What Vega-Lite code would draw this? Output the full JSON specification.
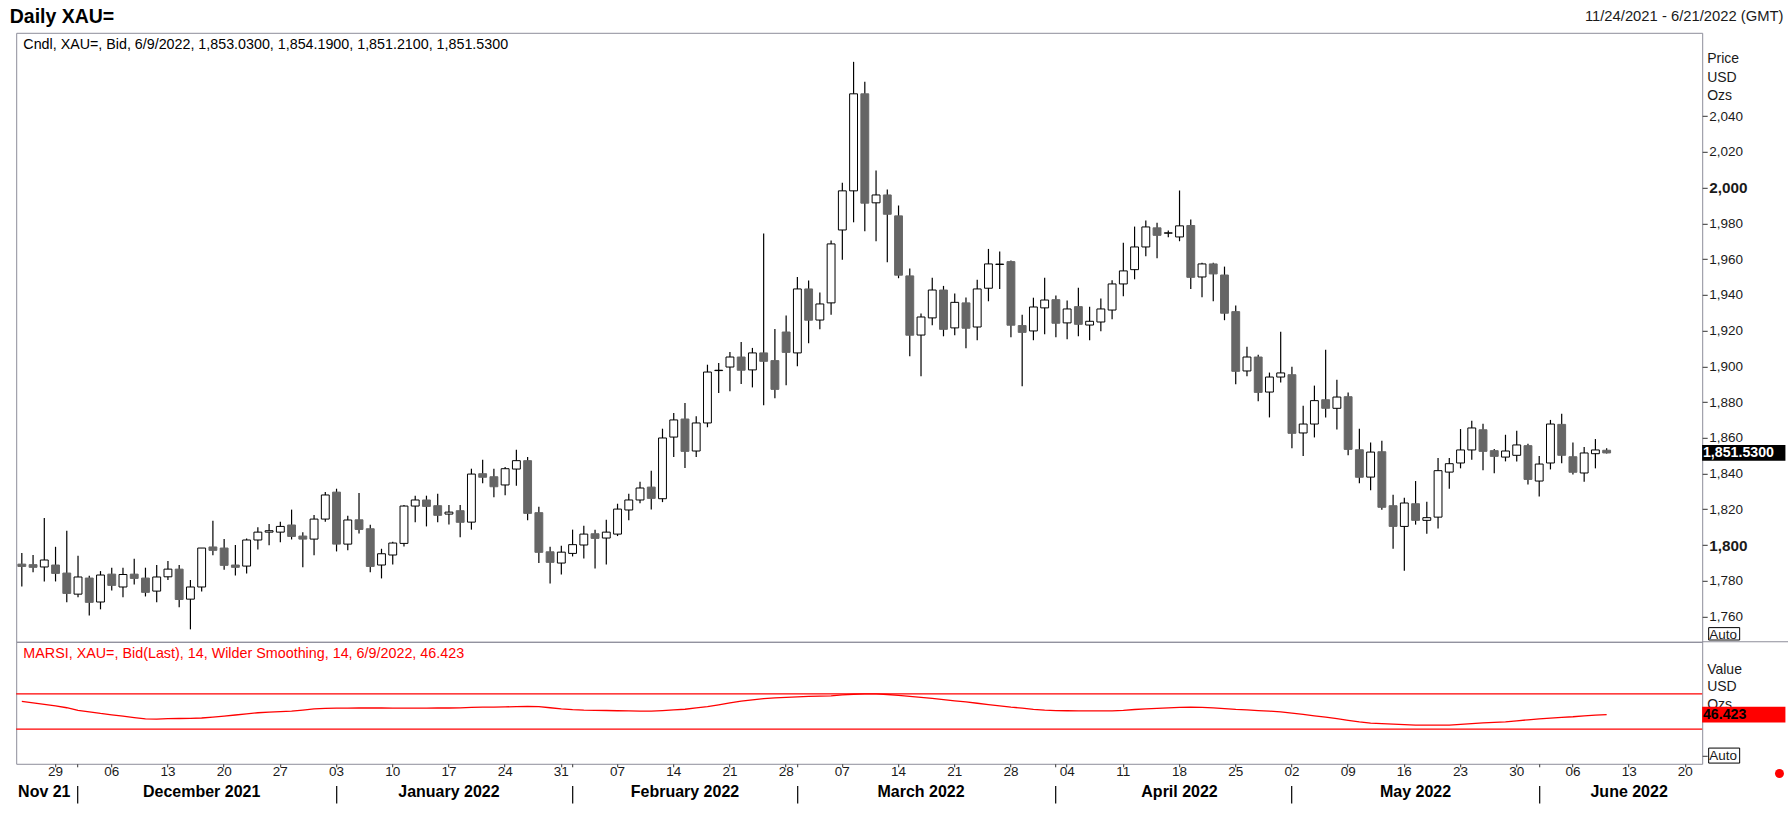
{
  "$schema": "https://vega.github.io/schema/vega-lite/v6.json",
  "background": "white",
  "padding": {"left": 9.2, "top": 5.8, "right": 0, "bottom": 0},
  "spacing": 0,
  "bounds": "flush",
  "config": {
    "font": "Liberation Sans",
    "view": {"stroke": "#8e8e9a", "strokeWidth": 1},
    "axis": {"labelFont": "Liberation Sans", "titleFont": "Liberation Sans", "grid": false}
  },
  "resolve": {"scale": {"y": "independent", "x": "shared"}},
  "data": {
    "values": [
      {"date": "2021-11-24", "open": 1789.3, "high": 1795.5, "low": 1776.8, "close": 1788.0, "rsi": 61.3},
      {"date": "2021-11-25", "open": 1789.0, "high": 1794.4, "low": 1784.7, "close": 1787.5, "rsi": 59.7},
      {"date": "2021-11-26", "open": 1787.7, "high": 1815.1, "low": 1779.6, "close": 1791.6, "rsi": 58.0},
      {"date": "2021-11-29", "open": 1788.8, "high": 1799.0, "low": 1779.6, "close": 1784.1, "rsi": 56.2},
      {"date": "2021-11-30", "open": 1784.3, "high": 1808.0, "low": 1767.9, "close": 1772.9, "rsi": 54.2},
      {"date": "2021-12-01", "open": 1772.5, "high": 1794.0, "low": 1770.7, "close": 1782.1, "rsi": 51.3},
      {"date": "2021-12-02", "open": 1781.5, "high": 1782.8, "low": 1760.6, "close": 1767.9, "rsi": 49.5},
      {"date": "2021-12-03", "open": 1768.1, "high": 1785.4, "low": 1764.0, "close": 1783.2, "rsi": 47.7},
      {"date": "2021-12-06", "open": 1783.7, "high": 1787.3, "low": 1774.6, "close": 1777.4, "rsi": 46.2},
      {"date": "2021-12-07", "open": 1776.5, "high": 1787.3, "low": 1770.7, "close": 1783.5, "rsi": 44.6},
      {"date": "2021-12-08", "open": 1783.7, "high": 1792.3, "low": 1777.9, "close": 1781.3, "rsi": 43.0},
      {"date": "2021-12-09", "open": 1781.5, "high": 1787.3, "low": 1771.2, "close": 1773.5, "rsi": 41.6},
      {"date": "2021-12-10", "open": 1774.2, "high": 1788.8, "low": 1767.9, "close": 1782.1, "rsi": 41.4},
      {"date": "2021-12-13", "open": 1782.2, "high": 1791.0, "low": 1780.4, "close": 1786.5, "rsi": 41.8},
      {"date": "2021-12-14", "open": 1786.5, "high": 1788.8, "low": 1765.1, "close": 1769.5, "rsi": 42.0},
      {"date": "2021-12-15", "open": 1769.7, "high": 1780.4, "low": 1752.8, "close": 1776.5, "rsi": 42.2},
      {"date": "2021-12-16", "open": 1776.5, "high": 1798.3, "low": 1774.0, "close": 1798.3, "rsi": 42.6},
      {"date": "2021-12-17", "open": 1798.9, "high": 1813.6, "low": 1794.2, "close": 1797.0, "rsi": 43.6},
      {"date": "2021-12-20", "open": 1798.3, "high": 1803.3, "low": 1786.2, "close": 1788.6, "rsi": 44.8},
      {"date": "2021-12-21", "open": 1788.8, "high": 1800.0, "low": 1783.0, "close": 1787.5, "rsi": 46.0},
      {"date": "2021-12-22", "open": 1788.2, "high": 1803.7, "low": 1784.1, "close": 1802.8, "rsi": 47.3},
      {"date": "2021-12-23", "open": 1802.8, "high": 1810.0, "low": 1797.5, "close": 1807.2, "rsi": 48.5},
      {"date": "2021-12-24", "open": 1807.2, "high": 1811.7, "low": 1799.8, "close": 1808.0, "rsi": 49.3},
      {"date": "2021-12-27", "open": 1807.2, "high": 1813.0, "low": 1801.5, "close": 1810.4, "rsi": 49.9},
      {"date": "2021-12-28", "open": 1811.2, "high": 1819.8, "low": 1803.1, "close": 1804.8, "rsi": 50.4},
      {"date": "2021-12-29", "open": 1805.0, "high": 1807.2, "low": 1787.5, "close": 1803.3, "rsi": 51.5},
      {"date": "2021-12-30", "open": 1803.3, "high": 1816.8, "low": 1794.2, "close": 1814.5, "rsi": 52.8},
      {"date": "2021-12-31", "open": 1814.5, "high": 1829.6, "low": 1813.0, "close": 1828.0, "rsi": 53.5},
      {"date": "2022-01-03", "open": 1829.6, "high": 1831.5, "low": 1796.4, "close": 1800.5, "rsi": 53.8},
      {"date": "2022-01-04", "open": 1800.5, "high": 1816.4, "low": 1797.0, "close": 1814.0, "rsi": 53.8},
      {"date": "2022-01-05", "open": 1814.1, "high": 1829.1, "low": 1806.5, "close": 1808.7, "rsi": 53.9},
      {"date": "2022-01-06", "open": 1809.1, "high": 1811.4, "low": 1784.7, "close": 1788.0, "rsi": 53.9},
      {"date": "2022-01-07", "open": 1788.8, "high": 1797.9, "low": 1781.3, "close": 1795.1, "rsi": 53.9},
      {"date": "2022-01-10", "open": 1794.4, "high": 1801.8, "low": 1789.1, "close": 1801.1, "rsi": 53.8},
      {"date": "2022-01-11", "open": 1800.9, "high": 1822.4, "low": 1799.2, "close": 1821.8, "rsi": 53.8},
      {"date": "2022-01-12", "open": 1821.8, "high": 1827.6, "low": 1812.7, "close": 1825.2, "rsi": 53.8},
      {"date": "2022-01-13", "open": 1825.2, "high": 1827.6, "low": 1810.4, "close": 1821.6, "rsi": 53.8},
      {"date": "2022-01-14", "open": 1822.0, "high": 1828.7, "low": 1812.7, "close": 1816.6, "rsi": 53.9},
      {"date": "2022-01-17", "open": 1817.3, "high": 1822.4, "low": 1811.5, "close": 1818.4, "rsi": 53.9},
      {"date": "2022-01-18", "open": 1819.2, "high": 1822.4, "low": 1804.3, "close": 1812.7, "rsi": 54.0},
      {"date": "2022-01-19", "open": 1812.8, "high": 1842.7, "low": 1808.6, "close": 1839.7, "rsi": 54.6},
      {"date": "2022-01-20", "open": 1839.9, "high": 1847.7, "low": 1834.5, "close": 1837.9, "rsi": 55.0},
      {"date": "2022-01-21", "open": 1838.2, "high": 1842.7, "low": 1826.7, "close": 1832.6, "rsi": 55.0},
      {"date": "2022-01-24", "open": 1833.6, "high": 1843.6, "low": 1827.8, "close": 1842.7, "rsi": 55.2},
      {"date": "2022-01-25", "open": 1842.5, "high": 1853.3, "low": 1833.2, "close": 1847.2, "rsi": 55.5},
      {"date": "2022-01-26", "open": 1847.2, "high": 1849.2, "low": 1813.8, "close": 1817.7, "rsi": 55.6},
      {"date": "2022-01-27", "open": 1818.1, "high": 1821.4, "low": 1789.9, "close": 1795.9, "rsi": 55.4},
      {"date": "2022-01-28", "open": 1796.2, "high": 1799.0, "low": 1778.5, "close": 1790.3, "rsi": 54.2},
      {"date": "2022-01-31", "open": 1789.9, "high": 1799.6, "low": 1783.5, "close": 1796.0, "rsi": 52.8},
      {"date": "2022-02-01", "open": 1795.3, "high": 1808.6, "low": 1793.6, "close": 1800.2, "rsi": 52.0},
      {"date": "2022-02-02", "open": 1800.0, "high": 1810.8, "low": 1792.5, "close": 1806.1, "rsi": 51.5},
      {"date": "2022-02-03", "open": 1806.3, "high": 1808.6, "low": 1786.9, "close": 1803.7, "rsi": 51.3},
      {"date": "2022-02-04", "open": 1803.9, "high": 1814.1, "low": 1789.1, "close": 1807.2, "rsi": 51.1},
      {"date": "2022-02-07", "open": 1806.1, "high": 1823.1, "low": 1805.0, "close": 1820.1, "rsi": 50.8},
      {"date": "2022-02-08", "open": 1819.6, "high": 1828.7, "low": 1813.8, "close": 1825.2, "rsi": 50.6},
      {"date": "2022-02-09", "open": 1825.2, "high": 1835.4, "low": 1823.3, "close": 1831.9, "rsi": 50.4},
      {"date": "2022-02-10", "open": 1832.4, "high": 1841.6, "low": 1819.9, "close": 1826.1, "rsi": 50.4},
      {"date": "2022-02-11", "open": 1825.9, "high": 1865.1, "low": 1824.0, "close": 1859.9, "rsi": 51.0},
      {"date": "2022-02-14", "open": 1860.4, "high": 1873.9, "low": 1849.2, "close": 1870.0, "rsi": 51.7},
      {"date": "2022-02-15", "open": 1870.5, "high": 1879.5, "low": 1843.1, "close": 1852.4, "rsi": 52.5},
      {"date": "2022-02-16", "open": 1852.6, "high": 1872.0, "low": 1849.2, "close": 1868.3, "rsi": 54.0},
      {"date": "2022-02-17", "open": 1868.3, "high": 1900.9, "low": 1865.9, "close": 1896.8, "rsi": 55.5},
      {"date": "2022-02-18", "open": 1897.6, "high": 1901.9, "low": 1885.1, "close": 1897.8, "rsi": 57.5},
      {"date": "2022-02-21", "open": 1899.6, "high": 1908.0, "low": 1886.0, "close": 1905.2, "rsi": 59.6},
      {"date": "2022-02-22", "open": 1905.2, "high": 1913.6, "low": 1890.1, "close": 1897.8, "rsi": 61.6},
      {"date": "2022-02-23", "open": 1898.0, "high": 1910.3, "low": 1888.2, "close": 1907.5, "rsi": 63.2},
      {"date": "2022-02-24", "open": 1907.5, "high": 1974.3, "low": 1878.2, "close": 1902.8, "rsi": 64.5},
      {"date": "2022-02-25", "open": 1903.2, "high": 1920.9, "low": 1882.1, "close": 1887.1, "rsi": 65.4},
      {"date": "2022-02-28", "open": 1919.2, "high": 1928.4, "low": 1889.4, "close": 1907.8, "rsi": 66.0},
      {"date": "2022-03-01", "open": 1907.5, "high": 1950.0, "low": 1900.0, "close": 1943.3, "rsi": 66.5},
      {"date": "2022-03-02", "open": 1943.3, "high": 1948.0, "low": 1912.9, "close": 1925.8, "rsi": 67.0},
      {"date": "2022-03-03", "open": 1925.9, "high": 1941.3, "low": 1920.7, "close": 1934.9, "rsi": 67.3},
      {"date": "2022-03-04", "open": 1935.5, "high": 1970.4, "low": 1928.9, "close": 1968.5, "rsi": 67.6},
      {"date": "2022-03-07", "open": 1976.3, "high": 2002.7, "low": 1959.7, "close": 1998.2, "rsi": 68.8},
      {"date": "2022-03-08", "open": 1998.2, "high": 2070.4, "low": 1980.6, "close": 2052.5, "rsi": 69.5},
      {"date": "2022-03-09", "open": 2052.5, "high": 2059.2, "low": 1975.6, "close": 1991.3, "rsi": 70.0},
      {"date": "2022-03-10", "open": 1991.5, "high": 2009.6, "low": 1970.0, "close": 1995.9, "rsi": 70.0},
      {"date": "2022-03-11", "open": 1995.9, "high": 1998.9, "low": 1958.2, "close": 1985.1, "rsi": 69.2},
      {"date": "2022-03-14", "open": 1984.2, "high": 1990.0, "low": 1949.3, "close": 1951.0, "rsi": 68.2},
      {"date": "2022-03-15", "open": 1950.6, "high": 1954.7, "low": 1905.6, "close": 1917.4, "rsi": 67.0},
      {"date": "2022-03-16", "open": 1917.5, "high": 1929.5, "low": 1894.4, "close": 1927.6, "rsi": 66.0},
      {"date": "2022-03-17", "open": 1927.1, "high": 1949.5, "low": 1923.0, "close": 1942.7, "rsi": 64.8},
      {"date": "2022-03-18", "open": 1942.7, "high": 1945.0, "low": 1916.8, "close": 1920.7, "rsi": 63.3},
      {"date": "2022-03-21", "open": 1921.5, "high": 1940.7, "low": 1917.4, "close": 1935.8, "rsi": 62.0},
      {"date": "2022-03-22", "open": 1935.5, "high": 1938.5, "low": 1910.1, "close": 1921.3, "rsi": 60.8},
      {"date": "2022-03-23", "open": 1922.0, "high": 1948.5, "low": 1914.6, "close": 1943.3, "rsi": 59.3},
      {"date": "2022-03-24", "open": 1943.7, "high": 1965.7, "low": 1936.4, "close": 1957.3, "rsi": 57.8},
      {"date": "2022-03-25", "open": 1957.0, "high": 1964.2, "low": 1943.3, "close": 1957.2, "rsi": 56.3},
      {"date": "2022-03-28", "open": 1958.6, "high": 1959.2, "low": 1916.2, "close": 1923.0, "rsi": 54.8},
      {"date": "2022-03-29", "open": 1922.8, "high": 1928.9, "low": 1888.8, "close": 1919.0, "rsi": 53.8},
      {"date": "2022-03-30", "open": 1919.8, "high": 1938.4, "low": 1914.6, "close": 1933.2, "rsi": 52.4},
      {"date": "2022-03-31", "open": 1932.7, "high": 1949.6, "low": 1917.9, "close": 1937.1, "rsi": 51.5},
      {"date": "2022-04-01", "open": 1937.3, "high": 1939.6, "low": 1916.2, "close": 1924.1, "rsi": 51.0},
      {"date": "2022-04-04", "open": 1924.3, "high": 1936.8, "low": 1915.1, "close": 1932.1, "rsi": 50.8},
      {"date": "2022-04-05", "open": 1933.4, "high": 1944.0, "low": 1916.8, "close": 1923.5, "rsi": 50.7},
      {"date": "2022-04-06", "open": 1923.1, "high": 1933.4, "low": 1914.6, "close": 1925.2, "rsi": 50.7},
      {"date": "2022-04-07", "open": 1924.8, "high": 1937.9, "low": 1919.6, "close": 1932.1, "rsi": 50.7},
      {"date": "2022-04-08", "open": 1931.5, "high": 1948.2, "low": 1926.3, "close": 1946.1, "rsi": 50.7},
      {"date": "2022-04-11", "open": 1946.1, "high": 1969.2, "low": 1939.2, "close": 1953.4, "rsi": 51.3},
      {"date": "2022-04-12", "open": 1954.1, "high": 1978.2, "low": 1948.7, "close": 1966.8, "rsi": 52.2},
      {"date": "2022-04-13", "open": 1966.8, "high": 1981.6, "low": 1961.6, "close": 1978.0, "rsi": 52.9},
      {"date": "2022-04-14", "open": 1977.5, "high": 1980.4, "low": 1960.5, "close": 1973.3, "rsi": 53.5},
      {"date": "2022-04-15", "open": 1974.5, "high": 1976.0, "low": 1972.2, "close": 1974.7, "rsi": 54.0},
      {"date": "2022-04-18", "open": 1972.4, "high": 1998.4, "low": 1970.0, "close": 1978.6, "rsi": 54.5},
      {"date": "2022-04-19", "open": 1978.8, "high": 1982.1, "low": 1943.3, "close": 1949.8, "rsi": 54.9},
      {"date": "2022-04-20", "open": 1950.0, "high": 1957.9, "low": 1938.6, "close": 1957.3, "rsi": 54.7},
      {"date": "2022-04-21", "open": 1957.3, "high": 1957.9, "low": 1936.4, "close": 1951.7, "rsi": 54.1},
      {"date": "2022-04-22", "open": 1951.1, "high": 1955.8, "low": 1925.8, "close": 1929.7, "rsi": 53.3},
      {"date": "2022-04-25", "open": 1930.6, "high": 1934.0, "low": 1889.9, "close": 1897.2, "rsi": 52.3},
      {"date": "2022-04-26", "open": 1897.4, "high": 1911.0, "low": 1894.4, "close": 1905.2, "rsi": 51.7},
      {"date": "2022-04-27", "open": 1905.2, "high": 1906.5, "low": 1880.4, "close": 1885.4, "rsi": 51.0},
      {"date": "2022-04-28", "open": 1885.6, "high": 1896.5, "low": 1871.4, "close": 1894.0, "rsi": 50.3},
      {"date": "2022-04-29", "open": 1894.0, "high": 1919.4, "low": 1891.0, "close": 1896.3, "rsi": 49.6},
      {"date": "2022-05-02", "open": 1895.3, "high": 1899.8, "low": 1854.1, "close": 1862.5, "rsi": 48.2},
      {"date": "2022-05-03", "open": 1862.7, "high": 1878.0, "low": 1849.8, "close": 1867.7, "rsi": 46.6},
      {"date": "2022-05-04", "open": 1867.7, "high": 1889.2, "low": 1860.2, "close": 1880.8, "rsi": 45.1},
      {"date": "2022-05-05", "open": 1881.3, "high": 1909.3, "low": 1871.4, "close": 1876.5, "rsi": 43.6},
      {"date": "2022-05-06", "open": 1876.5, "high": 1892.5, "low": 1864.7, "close": 1882.8, "rsi": 41.8},
      {"date": "2022-05-09", "open": 1883.0, "high": 1885.3, "low": 1850.2, "close": 1853.5, "rsi": 40.0},
      {"date": "2022-05-10", "open": 1853.3, "high": 1865.1, "low": 1834.5, "close": 1837.9, "rsi": 38.2},
      {"date": "2022-05-11", "open": 1838.0, "high": 1857.3, "low": 1830.6, "close": 1852.0, "rsi": 36.8},
      {"date": "2022-05-12", "open": 1852.2, "high": 1858.4, "low": 1819.7, "close": 1821.1, "rsi": 36.2},
      {"date": "2022-05-13", "open": 1822.0, "high": 1828.1, "low": 1797.9, "close": 1810.4, "rsi": 35.6},
      {"date": "2022-05-16", "open": 1810.4, "high": 1826.5, "low": 1785.6, "close": 1823.5, "rsi": 35.0},
      {"date": "2022-05-17", "open": 1823.1, "high": 1835.8, "low": 1811.4, "close": 1813.8, "rsi": 34.5},
      {"date": "2022-05-18", "open": 1813.8, "high": 1824.2, "low": 1806.3, "close": 1815.3, "rsi": 34.5},
      {"date": "2022-05-19", "open": 1815.6, "high": 1848.7, "low": 1809.3, "close": 1841.6, "rsi": 34.5},
      {"date": "2022-05-20", "open": 1840.8, "high": 1848.7, "low": 1831.5, "close": 1845.5, "rsi": 34.6},
      {"date": "2022-05-23", "open": 1845.9, "high": 1864.9, "low": 1842.9, "close": 1853.2, "rsi": 35.4},
      {"date": "2022-05-24", "open": 1853.2, "high": 1869.6, "low": 1847.7, "close": 1865.5, "rsi": 36.3},
      {"date": "2022-05-25", "open": 1864.5, "high": 1867.9, "low": 1841.8, "close": 1852.4, "rsi": 37.0},
      {"date": "2022-05-26", "open": 1852.8, "high": 1853.7, "low": 1840.1, "close": 1849.6, "rsi": 37.6},
      {"date": "2022-05-27", "open": 1849.2, "high": 1861.7, "low": 1846.8, "close": 1852.6, "rsi": 38.2},
      {"date": "2022-05-30", "open": 1850.2, "high": 1864.0, "low": 1846.8, "close": 1856.0, "rsi": 39.3},
      {"date": "2022-05-31", "open": 1855.6, "high": 1856.7, "low": 1833.9, "close": 1836.7, "rsi": 40.5},
      {"date": "2022-06-01", "open": 1835.8, "high": 1849.8, "low": 1827.2, "close": 1845.3, "rsi": 41.5},
      {"date": "2022-06-02", "open": 1845.9, "high": 1870.0, "low": 1842.3, "close": 1867.7, "rsi": 42.4},
      {"date": "2022-06-03", "open": 1867.5, "high": 1873.5, "low": 1845.7, "close": 1850.2, "rsi": 43.2},
      {"date": "2022-06-06", "open": 1849.4, "high": 1857.3, "low": 1839.5, "close": 1840.7, "rsi": 44.0},
      {"date": "2022-06-07", "open": 1840.3, "high": 1854.8, "low": 1835.4, "close": 1851.5, "rsi": 45.1},
      {"date": "2022-06-08", "open": 1851.1, "high": 1859.3, "low": 1842.9, "close": 1853.2, "rsi": 45.9},
      {"date": "2022-06-09", "open": 1853.03, "high": 1854.19, "low": 1851.21, "close": 1851.53, "rsi": 46.423}
    ]
  },
  "vconcat": [
    {
      "width": 1686,
      "height": 609,
      "layer": [
        {
          "mark": {"type": "rule", "color": "black", "strokeWidth": 1.2},
          "encoding": {
            "x": {
              "field": "date", "type": "ordinal", "axis": null,
              "scale": {
                "paddingInner": 0.3, "paddingOuter": 0.15,
                "domain": ["2021-11-24","2021-11-25","2021-11-26","2021-11-29","2021-11-30",
                  "2021-12-01","2021-12-02","2021-12-03","2021-12-06","2021-12-07","2021-12-08","2021-12-09","2021-12-10","2021-12-13","2021-12-14","2021-12-15","2021-12-16","2021-12-17","2021-12-20","2021-12-21","2021-12-22","2021-12-23","2021-12-24","2021-12-27","2021-12-28","2021-12-29","2021-12-30","2021-12-31",
                  "2022-01-03","2022-01-04","2022-01-05","2022-01-06","2022-01-07","2022-01-10","2022-01-11","2022-01-12","2022-01-13","2022-01-14","2022-01-17","2022-01-18","2022-01-19","2022-01-20","2022-01-21","2022-01-24","2022-01-25","2022-01-26","2022-01-27","2022-01-28","2022-01-31",
                  "2022-02-01","2022-02-02","2022-02-03","2022-02-04","2022-02-07","2022-02-08","2022-02-09","2022-02-10","2022-02-11","2022-02-14","2022-02-15","2022-02-16","2022-02-17","2022-02-18","2022-02-21","2022-02-22","2022-02-23","2022-02-24","2022-02-25","2022-02-28",
                  "2022-03-01","2022-03-02","2022-03-03","2022-03-04","2022-03-07","2022-03-08","2022-03-09","2022-03-10","2022-03-11","2022-03-14","2022-03-15","2022-03-16","2022-03-17","2022-03-18","2022-03-21","2022-03-22","2022-03-23","2022-03-24","2022-03-25","2022-03-28","2022-03-29","2022-03-30","2022-03-31",
                  "2022-04-01","2022-04-04","2022-04-05","2022-04-06","2022-04-07","2022-04-08","2022-04-11","2022-04-12","2022-04-13","2022-04-14","2022-04-15","2022-04-18","2022-04-19","2022-04-20","2022-04-21","2022-04-22","2022-04-25","2022-04-26","2022-04-27","2022-04-28","2022-04-29",
                  "2022-05-02","2022-05-03","2022-05-04","2022-05-05","2022-05-06","2022-05-09","2022-05-10","2022-05-11","2022-05-12","2022-05-13","2022-05-16","2022-05-17","2022-05-18","2022-05-19","2022-05-20","2022-05-23","2022-05-24","2022-05-25","2022-05-26","2022-05-27","2022-05-30","2022-05-31",
                  "2022-06-01","2022-06-02","2022-06-03","2022-06-06","2022-06-07","2022-06-08","2022-06-09","2022-06-10","2022-06-13","2022-06-14","2022-06-15","2022-06-16","2022-06-17","2022-06-20","2022-06-21"]
              }
            },
            "y": {
              "field": "low", "type": "quantitative",
              "scale": {"domain": [1745.83, 2086.65], "nice": false, "zero": false},
              "axis": {
                "orient": "right",
                "values": [1750, 1760, 1780, 1800, 1820, 1840, 1860, 1880, 1900, 1920, 1940, 1960, 1980, 2000, 2020, 2040],
                "labelExpr": "datum.value == 1750 ? 'Auto' : format(datum.value, ',')",
                "labelFontSize": {"condition": {"test": "datum.value == 2000 || datum.value == 1800", "value": 15.3}, "value": 13.5},
                "labelFontWeight": {"condition": {"test": "datum.value == 2000 || datum.value == 1800", "value": "bold"}, "value": "normal"},
                "tickOpacity": {"condition": {"test": "datum.value == 1750", "value": 0}, "value": 1},
                "labelColor": "#1a1a1a",
                "tickColor": "#333333",
                "tickSize": 5,
                "labelPadding": 1.5,
                "domain": false,
                "title": ["Price", "USD", "Ozs"],
                "titleAngle": 0,
                "titleAlign": "left",
                "titleBaseline": "top",
                "titleX": 4.5,
                "titleY": 19,
                "titleFontSize": 14,
                "titleFontWeight": "normal",
                "titleColor": "#1a1a1a",
                "titleLineHeight": 18.4
              }
            },
            "y2": {"field": "high"}
          }
        },
        {
          "mark": {"type": "bar", "strokeWidth": 1},
          "encoding": {
            "x": {"field": "date", "type": "ordinal", "axis": null},
            "y": {"field": "open", "type": "quantitative"},
            "y2": {"field": "close"},
            "fill": {"condition": {"test": "datum.close < datum.open", "value": "#666666"}, "value": "white"},
            "stroke": {"condition": {"test": "datum.close < datum.open", "value": "#666666"}, "value": "black"}
          }
        },
        {
          "data": {"values": [{"label": "Cndl, XAU=, Bid, 6/9/2022, 1,853.0300, 1,854.1900, 1,851.2100, 1,851.5300"}]},
          "mark": {"type": "text", "align": "left", "baseline": "middle", "dx": 1.5, "fontSize": 14.3, "color": "black"},
          "encoding": {
            "x": {"datum": "2021-11-24", "type": "ordinal", "axis": null},
            "y": {"datum": 2079.7, "type": "quantitative"},
            "text": {"field": "label"}
          }
        },
        {
          "data": {"values": [{"label": "Daily XAU="}]},
          "mark": {"type": "text", "align": "left", "baseline": "top", "dx": -12.1, "fontSize": 19.5, "fontWeight": "bold", "color": "black"},
          "encoding": {
            "x": {"datum": "2021-11-24", "type": "ordinal", "axis": null},
            "y": {"datum": 2100.4, "type": "quantitative"},
            "text": {"field": "label"}
          }
        },
        {
          "data": {"values": [{"label": "11/24/2021 - 6/21/2022 (GMT)"}]},
          "mark": {"type": "text", "align": "right", "baseline": "middle", "dx": 86.9, "fontSize": 14.8, "color": "#1a1a1a"},
          "encoding": {
            "x": {"datum": "2022-06-21", "type": "ordinal", "axis": null},
            "y": {"datum": 2095.4, "type": "quantitative"},
            "text": {"field": "label"}
          }
        },
        {
          "data": {"values": [{"last": 1851.53}]},
          "mark": {"type": "tick", "color": "black", "opacity": 1, "size": 83.3, "thickness": 15.7, "xOffset": 47.2},
          "encoding": {
            "x": {"datum": "2022-06-21", "type": "ordinal", "axis": null},
            "y": {"field": "last", "type": "quantitative"}
          }
        },
        {
          "data": {"values": [{"last": 1851.53, "label": "1,851.5300"}]},
          "mark": {"type": "text", "align": "left", "baseline": "middle", "dx": 6.4, "fontSize": 14.2, "fontWeight": "bold", "color": "white"},
          "encoding": {
            "x": {"datum": "2022-06-21", "type": "ordinal", "axis": null},
            "y": {"field": "last", "type": "quantitative"},
            "text": {"field": "label"}
          }
        },
        {
          "data": {"values": [{"box": 1750.3}]},
          "mark": {"type": "tick", "filled": false, "color": "black", "strokeWidth": 1, "opacity": 1, "size": 31, "thickness": 12.4, "xOffset": 27.6},
          "encoding": {
            "x": {"datum": "2022-06-21", "type": "ordinal", "axis": null},
            "y": {"field": "box", "type": "quantitative"}
          }
        }
      ]
    },
    {
      "width": 1686,
      "height": 122,
      "resolve": {"axis": {"x": "independent"}},
      "layer": [
        {
          "data": {"values": [{"level": 70}, {"level": 30}]},
          "mark": {"type": "rule", "color": "#ff0000", "strokeWidth": 1.3},
          "encoding": {
            "y": {"field": "level", "type": "quantitative"}
          }
        },
        {
          "mark": {"type": "line", "color": "#ff0000", "strokeWidth": 1.3},
          "encoding": {
            "x": {
              "field": "date", "type": "ordinal",
              "axis": {
                "orient": "bottom",
                "values": ["2021-11-29","2021-12-01","2021-12-06","2021-12-13","2021-12-20","2021-12-27","2022-01-03","2022-01-10","2022-01-17","2022-01-24","2022-01-31","2022-02-01","2022-02-07","2022-02-14","2022-02-21","2022-02-28","2022-03-01","2022-03-07","2022-03-14","2022-03-21","2022-03-28","2022-04-01","2022-04-04","2022-04-11","2022-04-18","2022-04-25","2022-05-02","2022-05-09","2022-05-16","2022-05-23","2022-05-30","2022-06-01","2022-06-06","2022-06-13","2022-06-20"],
                "labelExpr": "indexof(['2021-12-01','2022-02-01','2022-03-01','2022-04-01','2022-06-01'], datum.value) >= 0 ? '' : substring(datum.value, 8, 10)",
                "labelAngle": 0,
                "labelAlign": "center",
                "labelBaseline": "top",
                "labelOverlap": false,
                "labelBound": false,
                "labelFlush": false,
                "labelFontSize": 13.5,
                "labelColor": "#1a1a1a",
                "labelPadding": -2.6,
                "tickSize": 3,
                "tickColor": "#333333",
                "domain": false,
                "title": null
              }
            },
            "y": {
              "field": "rsi", "type": "quantitative",
              "scale": {"domain": [-9.3, 128.9], "nice": false, "zero": false},
              "axis": {
                "orient": "right",
                "values": [0],
                "labelExpr": "'Auto'",
                "labelFontSize": 13.5,
                "labelColor": "#1a1a1a",
                "tickColor": "#333333",
                "tickSize": 5,
                "labelPadding": 1.5,
                "domain": false,
                "title": ["Value", "USD", "Ozs"],
                "titleAngle": 0,
                "titleAlign": "left",
                "titleBaseline": "top",
                "titleX": 4.5,
                "titleY": 20.3,
                "titleFontSize": 14,
                "titleFontWeight": "normal",
                "titleColor": "#1a1a1a",
                "titleLineHeight": 17.6
              }
            }
          }
        },
        {
          "data": {"values": [{"label": "MARSI, XAU=, Bid(Last),  14, Wilder Smoothing, 14, 6/9/2022, 46.423"}]},
          "mark": {"type": "text", "align": "left", "baseline": "middle", "dx": 1.5, "fontSize": 14.35, "color": "#ff0000"},
          "encoding": {
            "x": {"datum": "2021-11-24", "type": "ordinal", "axis": null},
            "y": {"datum": 114.6, "type": "quantitative"},
            "text": {"field": "label"}
          }
        },
        {
          "data": {"values": [{"last": 46.423}]},
          "mark": {"type": "tick", "color": "#ff0000", "opacity": 1, "size": 83.3, "thickness": 15.7, "xOffset": 47.2},
          "encoding": {
            "x": {
              "datum": "2022-06-21", "type": "ordinal",
              "axis": {
                "orient": "bottom",
                "values": ["2021-12-01","2022-01-03","2022-02-01","2022-03-01","2022-04-01","2022-05-02","2022-06-01"],
                "labels": false,
                "tickSize": 17.6,
                "tickColor": "black",
                "tickWidth": 1.2,
                "offset": 21.7,
                "domain": false,
                "title": null
              }
            },
            "y": {"field": "last", "type": "quantitative"}
          }
        },
        {
          "data": {"values": [{"last": 46.423, "label": "46.423"}]},
          "mark": {"type": "text", "align": "left", "baseline": "middle", "dx": 6.4, "fontSize": 14.2, "fontWeight": "bold", "color": "black"},
          "encoding": {
            "x": {
              "datum": "2022-06-21", "type": "ordinal",
              "axis": {
                "orient": "bottom",
                "values": ["2021-11-26","2021-12-16","2022-01-17","2022-02-15","2022-03-16","2022-04-18","2022-05-17","2022-06-13"],
                "labelExpr": "['Nov 21','December 2021','January 2022','February 2022','March 2022','April 2022','May 2022','June 2022'][indexof(['2021-11-26','2021-12-16','2022-01-17','2022-02-15','2022-03-16','2022-04-18','2022-05-17','2022-06-13'], datum.value)]",
                "labelAngle": 0,
                "labelAlign": "center",
                "labelBaseline": "top",
                "labelOverlap": false,
                "labelBound": false,
                "labelFlush": false,
                "labelFontSize": 16,
                "labelFontWeight": "bold",
                "labelColor": "black",
                "labelPadding": -1.5,
                "ticks": false,
                "tickSize": 0,
                "offset": 21.7,
                "domain": false,
                "title": null
              }
            },
            "y": {"field": "last", "type": "quantitative"},
            "text": {"field": "label"}
          }
        },
        {
          "data": {"values": [{"box": 0}]},
          "mark": {"type": "tick", "filled": false, "color": "black", "strokeWidth": 1, "opacity": 1, "size": 31, "thickness": 15, "xOffset": 27.6},
          "encoding": {
            "x": {"datum": "2022-06-21", "type": "ordinal", "axis": null},
            "y": {"field": "box", "type": "quantitative"}
          }
        },
        {
          "data": {"values": [{"edge": 128.9}]},
          "mark": {"type": "tick", "color": "#8e8e9a", "opacity": 1, "size": 86, "thickness": 1, "xOffset": 48.9},
          "encoding": {
            "x": {"datum": "2022-06-21", "type": "ordinal", "axis": null},
            "y": {"field": "edge", "type": "quantitative"}
          }
        },
        {
          "data": {"values": [{"dot": -20.3}]},
          "mark": {"type": "point", "filled": true, "color": "#ff0000", "opacity": 1, "size": 80, "xOffset": 82.9},
          "encoding": {
            "x": {"datum": "2022-06-21", "type": "ordinal", "axis": null},
            "y": {"field": "dot", "type": "quantitative"}
          }
        }
      ]
    }
  ]
}
